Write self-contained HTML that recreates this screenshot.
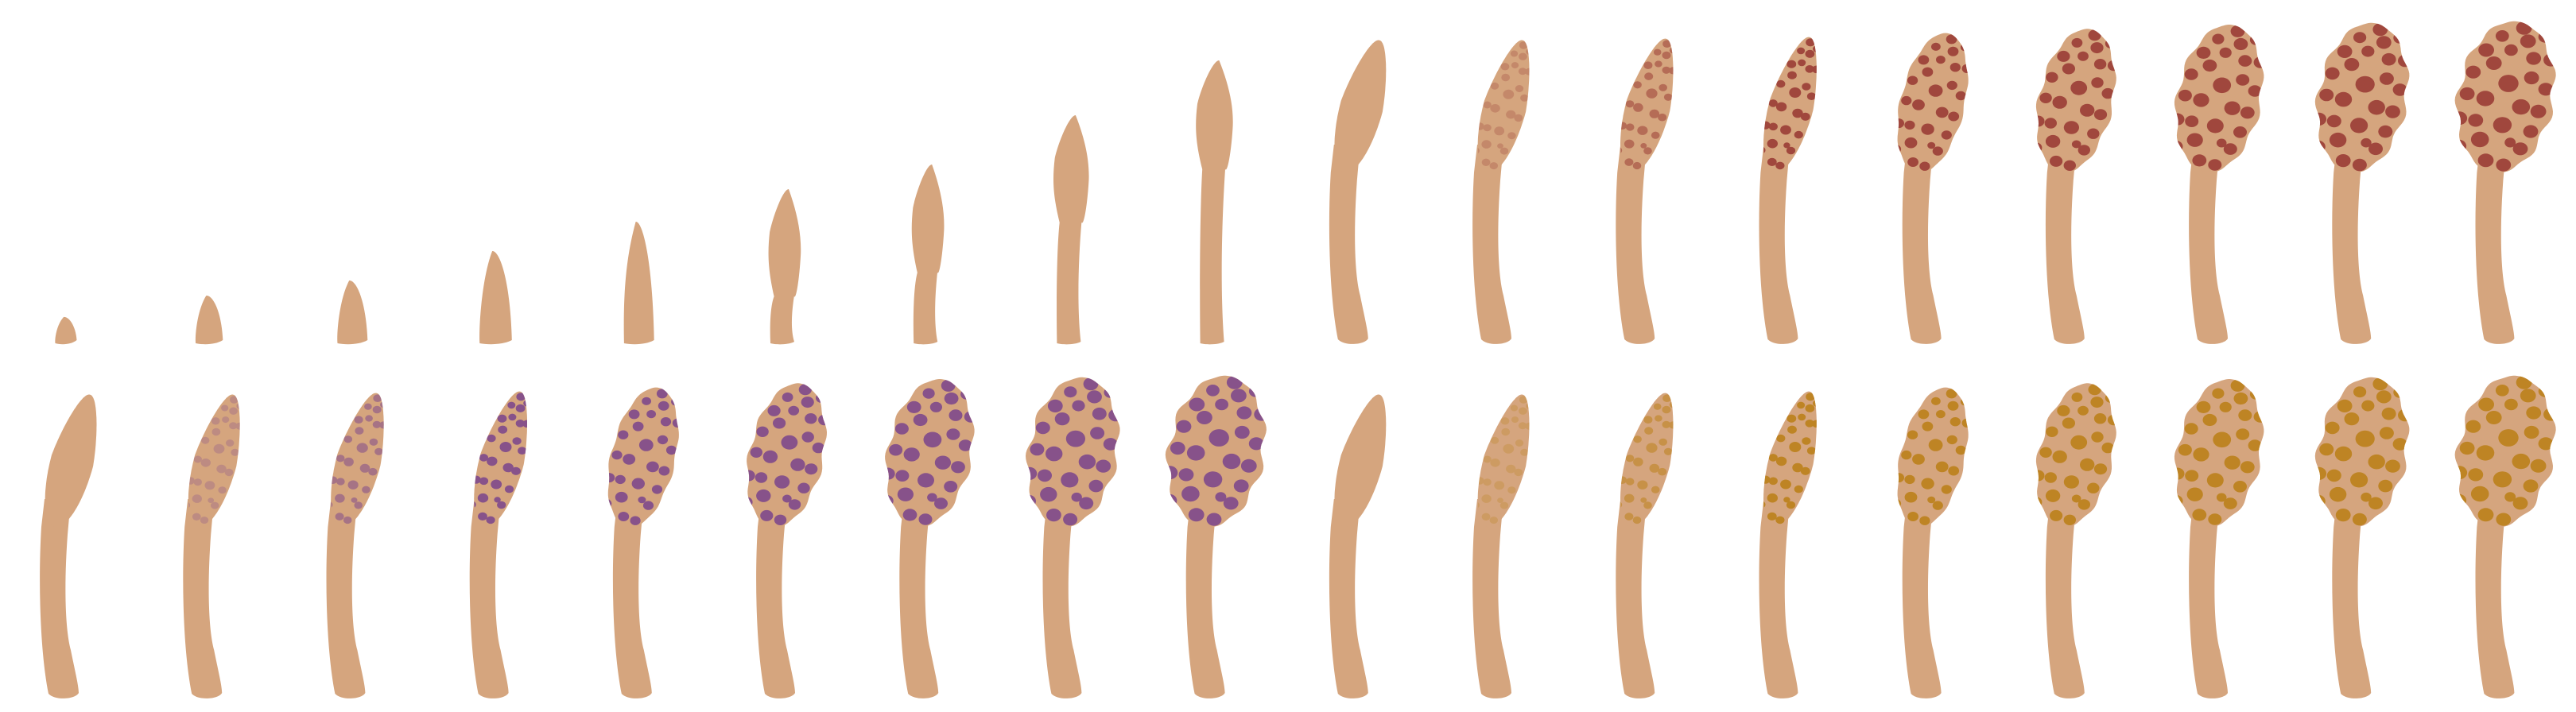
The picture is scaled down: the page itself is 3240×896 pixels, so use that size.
<!DOCTYPE html>
<html><head><meta charset="utf-8">
<style>
html,body{margin:0;padding:0;background:#fff;}
svg{display:block;}
</style></head>
<body>
<svg id="chart" width="3240" height="896" viewBox="0 0 3240 896" xmlns="http://www.w3.org/2000/svg">
<defs id="defs"></defs>
<g id="plants"></g>
</svg>
<script>
// ---- data ----
const budHeights=[33,60,79,116,153,194,225,287,356];
const budLengths=[33,60,79,116,153,135,136,135,137];
const budWidths=[30,38,42,45,42,42,42,46,48];
const headWidths=[54,54,56,56,80,92,104,110,118];
const headHeights=[172,172,174,176,180,184,188,190,192];
const headBottoms=[214,214,214,214,214,215,216,216,216];
const headRot=[15,15,15,15,13,12,11,10,10];
const spotOpacity=[0,0.3,0.6,1,1,1,1,1,1];
const spotScale=[0,0.7,0.72,0.76,0.9,1.05,1.15,1.22,1.28];
const bumpAmp=[0,0,0,0,1.5,2.5,3,3.5,4];
const spotU=[.14,.64,-.31,.28,-.06,.47,.86,-.61,-.39,.5,-.81,.01,.86,-.86,-.44,.38,.78,-.94,-.57,.04,.69,.28,-.4,.53,-.84,-.19,.22];
const spotV=[-.98,-.91,-.82,-.81,-.65,-.59,-.61,-.59,-.43,-.32,-.26,-.19,-.2,.05,.07,.1,.12,.4,.39,.39,.41,.61,.64,.67,.78,.91,.93];
const spotR=[7,6,6,7,6,6.7,6.7,7,7,6.7,6.7,9,6.7,6.7,8,8,7,7,6.7,8.3,6.7,5,8,6.7,6.7,7,6.7];

const PLANT='#D5A57E';
const NS='http://www.w3.org/2000/svg';
const root=document.getElementById('plants');
const defs=document.getElementById('defs');
function colX(i){return 83+180.2*i;}
let clipId=0;

function stemPath(bx,by){
  const p=(x,y)=>(bx+x).toFixed(1)+' '+(by+y).toFixed(1);
  return 'M'+p(-22,-5)+' C'+p(-33,-60)+' '+p(-35,-150)+' '+p(-31,-215)+
    ' L'+p(-27,-250)+' L'+p(6,-250)+' L'+p(2,-205)+
    ' C'+p(-2,-150)+' '+p(-2,-90)+' '+p(6,-60)+
    ' C'+p(11,-35)+' '+p(16,-15)+' '+p(16,-6)+
    ' C'+p(12,2)+' '+p(-14,4)+' '+p(-22,-5)+' Z';
}

function headPoints(bx,by,s){
  const a=headWidths[s]/2,b=headHeights[s]/2;
  const cy=-(headBottoms[s]+b*0.98), cx=s<4?8:5;
  const th=headRot[s]*Math.PI/180, amp=bumpAmp[s];
  const pts=[];
  for(let k=0;k<160;k++){
    const t=k/160*2*Math.PI;
    const bump=amp*Math.sin(11*t)*Math.abs(Math.cos(t));
    let x=(a+bump)*Math.cos(t), y=(b+bump*0.5)*Math.sin(t);
    if(s<4 && Math.sin(t)<0){ x*=(1+0.3*Math.sin(t)); }
    const rx=x*Math.cos(th)-y*Math.sin(th), ry=x*Math.sin(th)+y*Math.cos(th);
    pts.push([bx+cx+rx,by+cy+ry]);
  }
  return {pts,a,b,cx,cy,th};
}

function drawFull(i,by,s,color,label){
  const bx=colX(i);
  const g=document.createElementNS(NS,'g');
  
  
  const stem=document.createElementNS(NS,'path');
  stem.setAttribute('d',stemPath(bx,by));
  stem.setAttribute('fill',PLANT);
  
  
  g.appendChild(stem);
  const h=headPoints(bx,by,s);
  const ptsStr=h.pts.map(p=>p[0].toFixed(1)+','+p[1].toFixed(1)).join(' ');
  const head=document.createElementNS(NS,'polygon');
  head.setAttribute('points',ptsStr);
  head.setAttribute('fill',PLANT);
  
  
  g.appendChild(head);
  if(spotOpacity[s]>0){
    const id='c'+(clipId++);
    const cp=document.createElementNS(NS,'clipPath');
    cp.setAttribute('id',id);
    const cpp=document.createElementNS(NS,'polygon');
    cpp.setAttribute('points',ptsStr);
    cp.appendChild(cpp);defs.appendChild(cp);
    const sg=document.createElementNS(NS,'g');
    sg.setAttribute('clip-path','url(#'+id+')');
    sg.setAttribute('opacity',spotOpacity[s]);
    
    
    for(let k=0;k<spotU.length;k++){
      let u=spotU[k];
      if(s<4 && spotV[k]<0) u*=(1+0.3*spotV[k]);
      const x=u*h.a*0.95, y=spotV[k]*h.b*0.95;
      const rx=x*Math.cos(h.th)-y*Math.sin(h.th), ry=x*Math.sin(h.th)+y*Math.cos(h.th);
      const e=document.createElementNS(NS,'ellipse');
      e.setAttribute('cx',(bx+h.cx+rx).toFixed(1));
      e.setAttribute('cy',(by+h.cy+ry).toFixed(1));
      e.setAttribute('rx',(spotR[k]*spotScale[s]*1.1).toFixed(1));
      e.setAttribute('ry',(spotR[k]*spotScale[s]*0.95).toFixed(1));
      e.setAttribute('fill',color);
      
      
      sg.appendChild(e);
    }
    g.appendChild(sg);
  }
  root.appendChild(g);
}

function drawBud(i,by,k){
  const bx=colX(i);
  const H=budHeights[k], L=budLengths[k], w=budWidths[k];
  const g=document.createElementNS(NS,'g');
  
  
  const stemLen=H-L;
  const p=(x,y)=>(bx+x).toFixed(1)+' '+(by+y).toFixed(1);
  const y0=-stemLen, yt=-H, xc=stemLen>0?3:0;
  const wf=k<4?0.15:0.4;
  const ywid=y0-L*wf;
  let d;
  if(stemLen>0){
    d='M'+p(-15,0)+' C'+p(-16,y0*0.4)+' '+p(-15,y0*0.8)+' '+p(xc-w*0.32,y0)+
      ' C'+p(xc-w*0.5,ywid+L*0.15)+' '+p(xc-w*0.52,ywid)+' '+p(xc-w*0.45,ywid-L*0.2)+
      ' C'+p(xc-w*0.35,yt+L*0.25)+' '+p(xc-w*0.05,yt)+' '+p(xc+w*0.12,yt)+
      ' C'+p(xc+w*0.35,yt+L*0.2)+' '+p(xc+w*0.5,ywid-L*0.2)+' '+p(xc+w*0.48,ywid)+
      ' C'+p(xc+w*0.45,ywid+L*0.2)+' '+p(xc+w*0.35,y0+5)+' '+p(xc+w*0.28,y0)+
      ' C'+p(12,y0*0.7)+' '+p(10,y0*0.3)+' '+p(15,-2)+' C'+p(8,2)+' '+p(-8,2)+' '+p(-15,0)+' Z';
  }else{
    d='M'+p(-w*0.45,0)+
      ' C'+p(-w*0.48,ywid)+' '+p(-w*0.4,yt+H*0.3)+' '+p(-w*0.1,yt)+
      ' C'+p(w*0.1,yt-1)+' '+p(w*0.4,yt+H*0.3)+' '+p(w*0.45,-4)+
      ' C'+p(w*0.2,2)+' '+p(-w*0.2,2)+' '+p(-w*0.45,0)+' Z';
  }
  const path=document.createElementNS(NS,'path');
  path.setAttribute('d',d);
  path.setAttribute('fill',PLANT);
  
  
  g.appendChild(path);
  root.appendChild(g);
}

const ROW1=432, ROW2=878;
for(let k=0;k<9;k++) drawBud(k,ROW1,k);
for(let s=0;s<9;s++) drawFull(9+s,ROW1,s,'#A0473D','red-plant-stage-'+(s+1));
for(let s=0;s<9;s++) drawFull(s,ROW2,s,'#87528A','purple-plant-stage-'+(s+1));
for(let s=0;s<9;s++) drawFull(9+s,ROW2,s,'#BE8424','gold-plant-stage-'+(s+1));
</script>
</body></html>
